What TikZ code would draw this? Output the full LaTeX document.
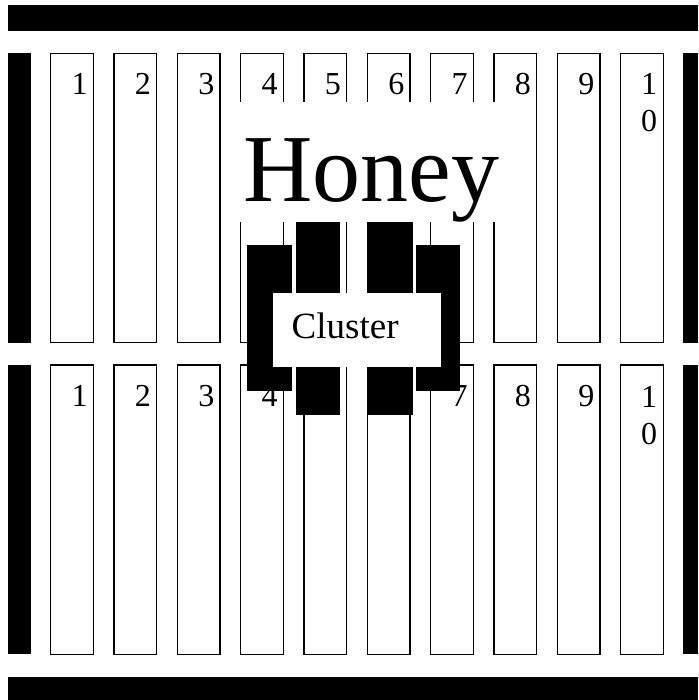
\documentclass[tikz,border=0pt]{standalone}
\usepackage{fontspec}
\setmainfont{Liberation Serif}
\usepackage{tikz}

\tikzset{
    frame/.style={draw=black,fill=white,line width=1.2pt},
    bar/.style={fill=black},
    number/.style={anchor=base east,inner sep=0,align=right,
        font=\fontsize{32}{37}\selectfont},
}

\begin{document}
\begin{tikzpicture}[x=1pt,y=-1pt]
        \useasboundingbox (0,0) rectangle (698,700);
        % outer bars
        \fill[bar] (8,5) rectangle (698,31);
        \fill[bar] (8,676.7) rectangle (698,700);
        \fill[bar] (8,53.3) rectangle (31,342.7);
        \fill[bar] (8,365) rectangle (31,654.3);
        \fill[bar] (682.7,53.3) rectangle (698,342.7);
        \fill[bar] (682.7,365) rectangle (698,654.3);
        % frames, upper and lower box
        \foreach \k in {1,...,10}{
            \pgfmathsetmacro{\xl}{50.7+63.33*(\k-1)}
            \pgfmathsetmacro{\xr}{\xl+42.6}
            \draw[frame] (\xl,53.3) rectangle (\xr,342.7);
            \draw[frame] (\xl,365) rectangle (\xr,654.3);
        }
        \foreach \k in {1,...,9}{
            \pgfmathsetmacro{\xe}{50.7+63.33*(\k-1)+42.6-5.5}
            \node[number] (top\k) at (\xe,95) {\k};
            \node[number] (bot\k) at (\xe,406.7) {\k};
        }
        % two lines: base is the last line
        \node[number] (top10) at (657.2,132) {1\\0};
        \node[number] (bot10) at (657.2,444) {1\\0};
        % honey
        \fill[white] (238,101.7) rectangle (500,221.7);
        \node[anchor=base west,inner sep=0,font=\fontsize{96}{110}\selectfont] (honey) at (243,201.7) {Honey};
        % cluster
        \fill[bar] (247.3,245) rectangle (291.7,391);
        \fill[bar] (296,221.7) rectangle (340,415);
        \fill[bar] (366.7,221.7) rectangle (412.7,415);
        \fill[bar] (416,245) rectangle (460,391);
        \fill[white] (272.7,293.3) rectangle (441,366.7);
        \node[anchor=base west,inner sep=0,font=\fontsize{37}{42}\selectfont] (cluster) at (291.5,338) {Cluster};
\end{tikzpicture}
\end{document}
